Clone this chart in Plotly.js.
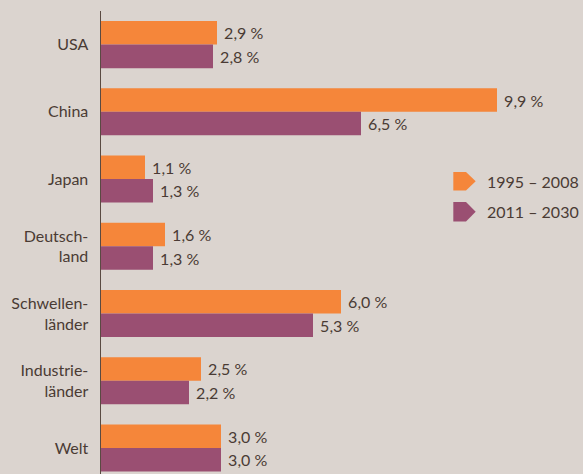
<!DOCTYPE html>
<html><head><meta charset="utf-8">
<script src="https://cdn.plot.ly/plotly-3.0.1.min.js"></script>
<style>html,body{margin:0;padding:0;background:#dbd4cf;}</style>
</head><body>
<div id="chart" style="width:583px;height:474px;"></div>
<script>
const categories = ["USA", "China", "Japan", "Deutsch-<br>land", "Schwellen-<br>länder", "Industrie-<br>länder", "Welt"];
const series1Name = "1995 – 2008";
const series2Name = "2011 – 2030";
const series1 = [2.9, 9.9, 1.1, 1.6, 6.0, 2.5, 3.0];
const series2 = [2.8, 6.5, 1.3, 1.3, 5.3, 2.2, 3.0];

const W = 583, H = 474;
const mL = 101, mR = 0, mT = 11.4, mB = 0;
const pw = W - mL - mR, ph = H - mT - mB;
const px = x => (x - mL) / pw;
const py = y => 1 - (y - mT) / ph;

const orange = "#f5863a", purple = "#9a4f72", txt = "#4a3b34";
const font = "Lato, 'Noto Sans', sans-serif";
const fs = 16;

const common = {
  type: "bar", orientation: "h", y: categories,
  textposition: "outside", cliponaxis: false,
  texttemplate: "\u00a0%{x:.1f} %",
  textfont: {family: font, size: fs, color: txt},
  hoverinfo: "none", showlegend: false
};
const data = [
  Object.assign({}, common, {x: series1, name: series1Name, marker: {color: orange}}),
  Object.assign({}, common, {x: series2, name: series2Name, marker: {color: purple}})
];

function arrow(y0, y1, color) {
  const x0 = px(453.3), xr = px(466), xt = px(475.7);
  const a = py(y0), b = py(y1), m = (a + b) / 2;
  return {type: "path", xref: "paper", yref: "paper",
    path: `M${x0},${a} L${xr},${a} L${xt},${m} L${xr},${b} L${x0},${b} Z`,
    fillcolor: color, line: {width: 0}};
}

const layout = {
  width: W, height: H,
  margin: {l: mL, r: mR, t: mT, b: mB, pad: 0},
  paper_bgcolor: "#dbd4cf", plot_bgcolor: "#dbd4cf",
  separators: ", ",
  barmode: "group", bargap: 0.30, bargroupgap: 0,
  font: {family: font, size: fs, color: txt},
  xaxis: {range: [0, 12.05], showgrid: false, zeroline: false, showticklabels: false, showline: false, fixedrange: true},
  yaxis: {type: "category", categoryorder: "array", categoryarray: categories,
    range: [6.387, -0.5], showgrid: false, zeroline: false,
    showline: true, linecolor: "#5a4a42", linewidth: 1.5,
    ticks: "", ticklabelstandoff: 8,
    tickfont: {family: font, size: fs, color: txt}},
  shapes: [arrow(172.3, 190.7, orange), arrow(202.3, 221.7, purple)],
  annotations: [
    {xref: "paper", yref: "paper", x: px(485), y: py(181.5), xanchor: "left", yanchor: "middle",
     text: series1Name, showarrow: false, font: {family: font, size: fs, color: txt}},
    {xref: "paper", yref: "paper", x: px(485), y: py(212), xanchor: "left", yanchor: "middle",
     text: series2Name, showarrow: false, font: {family: font, size: fs, color: txt}}
  ]
};
Plotly.newPlot("chart", data, layout, {displayModeBar: false, staticPlot: true});
</script>
</body></html>
